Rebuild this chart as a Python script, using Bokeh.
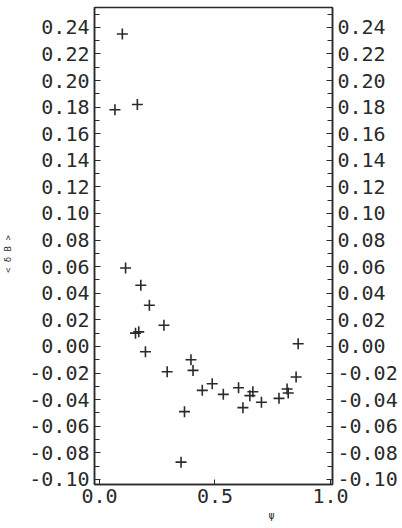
from bokeh.plotting import figure
from bokeh.models import LinearAxis, FixedTicker, PrintfTickFormatter, Range1d, Title
from bokeh.embed import file_html
from bokeh.resources import INLINE

# data
psi = [0.067, 0.099, 0.164, 0.113, 0.179, 0.216, 0.279, 0.156, 0.170, 0.199,
       0.293, 0.396, 0.405, 0.368, 0.445, 0.488, 0.536, 0.602, 0.621, 0.651,
       0.664, 0.701, 0.777, 0.812, 0.817, 0.851, 0.860, 0.353]
dB = [0.178, 0.235, 0.182, 0.059, 0.046, 0.031, 0.016, 0.010, 0.011, -0.004,
      -0.019, -0.010, -0.018, -0.049, -0.033, -0.028, -0.036, -0.031, -0.046, -0.037,
      -0.034, -0.042, -0.039, -0.032, -0.035, -0.023, 0.002, -0.087]

y_ticks = [-0.10, -0.08, -0.06, -0.04, -0.02, 0.00, 0.02, 0.04, 0.06, 0.08,
           0.10, 0.12, 0.14, 0.16, 0.18, 0.20, 0.22, 0.24]
y_minor = [-0.09, -0.07, -0.05, -0.03, -0.01, 0.01, 0.03, 0.05, 0.07, 0.09,
           0.11, 0.13, 0.15, 0.17, 0.19, 0.21, 0.23, 0.25]
x_ticks = [0.0, 0.5, 1.0]

FONT = "DejaVu Sans Mono"
INK = "#2a2a2a"

p = figure(width=402, height=528, output_backend="svg", toolbar_location=None,
           x_range=Range1d(-0.0215, 1.0086), y_range=Range1d(-0.1038, 0.2549),
           min_border_left=92, min_border_right=70, min_border_top=7,
           min_border_bottom=44, background_fill_color="white",
           border_fill_color="white")
p.grid.visible = False
p.outline_line_color = INK
p.outline_line_width = 1.5

p.scatter(psi, dB, marker="cross", size=11, line_width=1.6, color=INK)

def style_y(ax):
    ax.ticker = FixedTicker(ticks=y_ticks, minor_ticks=y_minor)
    ax.formatter = PrintfTickFormatter(format="%.2f")
    ax.major_label_text_font = FONT
    ax.major_label_text_font_size = "20px"
    ax.major_label_text_color = INK
    ax.major_label_standoff = 5
    ax.axis_line_color = INK
    ax.axis_line_width = 1.5
    ax.major_tick_in = 6
    ax.major_tick_out = 0
    ax.minor_tick_in = 5
    ax.minor_tick_out = 0
    ax.major_tick_line_color = INK
    ax.minor_tick_line_color = INK
    ax.major_tick_line_width = 1.2
    ax.minor_tick_line_width = 1.2

yl = p.yaxis[0]
style_y(yl)
yl.axis_label = "< δ B >\u00a0\u00a0\u00a0"
yl.axis_label_text_font = FONT
yl.axis_label_text_font_size = "9px"
yl.axis_label_text_font_style = "normal"
yl.axis_label_text_color = INK
yl.axis_label_standoff = 13

yr = LinearAxis()
style_y(yr)
p.add_layout(yr, "right")

xa = p.xaxis[0]
xa.ticker = FixedTicker(ticks=x_ticks, minor_ticks=[])
xa.formatter = PrintfTickFormatter(format="%.1f")
xa.major_label_text_font = FONT
xa.major_label_text_font_size = "20px"
xa.major_label_text_color = INK
xa.major_label_standoff = 4
xa.axis_line_color = INK
xa.axis_line_width = 1.5
xa.major_tick_in = 5
xa.major_tick_out = 0
xa.major_tick_line_color = INK

p.add_layout(Title(text="ψ", align="left", offset=174, standoff=4,
                   text_font=FONT, text_font_size="10px",
                   text_font_style="normal", text_color=INK), "below")

open("out.html", "w").write(file_html(p, INLINE))
